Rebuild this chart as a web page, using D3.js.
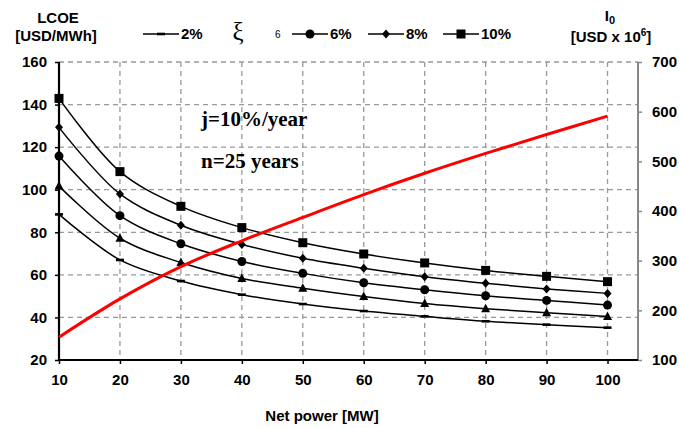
<!DOCTYPE html>
<html>
<head>
<meta charset="utf-8">
<script src="https://cdn.jsdelivr.net/npm/d3@7"></script>
<style>
body { margin: 0; background: #fff; }
text { font-family: "Liberation Sans", Arial, sans-serif; font-weight: bold; fill: #000; }
</style>
</head>
<body>
<svg id="chart" width="680" height="428"></svg>
<script>
var svg = d3.select('#chart');

// net power [MW]
var power = [10, 20, 30, 40, 50, 60, 70, 80, 90, 100];
// LCOE [USD/MWh] for each discount rate
var lcoe2 = [88.4, 67, 57.1, 50.7, 46.3, 43, 40.5, 38.2, 36.6, 35.2];
var lcoe4 = [101.7, 77.2, 65.8, 58.3, 53.7, 49.8, 46.5, 44.1, 42.2, 40.4];
var lcoe6 = [115.8, 87.8, 74.6, 66.3, 60.7, 56.3, 53, 50.2, 48, 45.8];
var lcoe8 = [129.3, 98, 83.3, 74.3, 67.8, 63.1, 59.1, 56, 53.4, 51.3];
var lcoe10 = [142.9, 108.5, 92.2, 82.2, 75.1, 69.8, 65.6, 62.1, 59.3, 56.8];
// investment I0 [USD x 10^6]
var invest = [146, 223, 288, 340, 387, 433, 476, 516, 554, 591];

var leftTicks = [20, 40, 60, 80, 100, 120, 140, 160];
var rightTicks = [100, 200, 300, 400, 500, 600, 700];
var xTicks = [10, 20, 30, 40, 50, 60, 70, 80, 90, 100];

var plot = {l: 59, r: 638, t: 62, b: 360};

var xScale = d3.scaleLinear().domain([10, 105]).range([plot.l, plot.r]);
var yScale = d3.scaleLinear().domain([20, 160]).range([plot.b, plot.t]);
var y2Scale = d3.scaleLinear().domain([100, 700]).range([plot.b, plot.t]);

// grid
var grid = svg.append('g').attr('class', 'grid');
grid.selectAll('.hgrid')
    .data(leftTicks.slice(1))
    .enter()
    .append('line')
    .attr('x1', plot.l).attr('x2', plot.r)
    .attr('y1', function(d) { return yScale(d); })
    .attr('y2', function(d) { return yScale(d); })
    .style('stroke', '#999').style('stroke-width', 1.3).style('stroke-dasharray', '5,4');
grid.selectAll('.vgrid')
    .data(xTicks.slice(1))
    .enter()
    .append('line')
    .attr('y1', plot.t).attr('y2', plot.b)
    .attr('x1', function(d) { return xScale(d); })
    .attr('x2', function(d) { return xScale(d); })
    .style('stroke', '#999').style('stroke-width', 1.3).style('stroke-dasharray', '5,4');

// axes
var xAxis = d3.axisBottom(xScale).tickValues(xTicks).tickSize(4).tickPadding(10);
var yAxis = d3.axisLeft(yScale).tickValues(leftTicks).tickSize(4).tickPadding(8);
var y2Axis = d3.axisRight(y2Scale).tickValues(rightTicks).tickSize(4).tickPadding(10);

var gx = svg.append('g')
    .attr('transform', 'translate(0,' + plot.b + ')')
    .call(xAxis);
var gy = svg.append('g')
    .attr('transform', 'translate(' + plot.l + ',0)')
    .call(yAxis);
var gy2 = svg.append('g')
    .attr('transform', 'translate(' + plot.r + ',0)')
    .call(y2Axis);

[gx, gy, gy2].forEach(function(g) {
    g.select('.domain').remove();
    g.selectAll('text').style('font-size', '15px').style('font-family', '"Liberation Sans", Arial, sans-serif');
});
gx.selectAll('line').style('stroke', '#000').style('stroke-width', 1.5);
gy.selectAll('line').style('stroke', '#000').style('stroke-width', 1.5);
gy2.selectAll('line').style('stroke', '#888').style('stroke-width', 1.5);

svg.append('line')
    .attr('x1', plot.r).attr('x2', plot.r).attr('y1', plot.t).attr('y2', plot.b)
    .style('stroke', '#888').style('stroke-width', 2);
svg.append('line')
    .attr('x1', plot.l).attr('x2', plot.l).attr('y1', plot.t).attr('y2', plot.b + 1)
    .style('stroke', '#000').style('stroke-width', 2.2);
svg.append('line')
    .attr('x1', plot.l).attr('x2', plot.r).attr('y1', plot.b).attr('y2', plot.b)
    .style('stroke', '#000').style('stroke-width', 2.2);

// series
var series = [
    {name: '2%', values: lcoe2, marker: 'dash'},
    {name: '4%', values: lcoe4, marker: 'triangle'},
    {name: '6%', values: lcoe6, marker: 'circle'},
    {name: '8%', values: lcoe8, marker: 'diamond'},
    {name: '10%', values: lcoe10, marker: 'square'}
];

var line = d3.line()
    .x(function(d) { return xScale(d[0]); })
    .y(function(d) { return yScale(d[1]); })
    .curve(d3.curveCatmullRom.alpha(0.5));

function drawMarker(g, type, x, y) {
    if (type == 'dash') {
        g.append('rect').attr('x', x - 4).attr('y', y - 1.3).attr('width', 8).attr('height', 2.6).style('fill', '#000');
    } else if (type == 'square') {
        g.append('rect').attr('x', x - 4.5).attr('y', y - 4.5).attr('width', 9).attr('height', 9).style('fill', '#000');
    } else if (type == 'circle') {
        g.append('circle').attr('cx', x).attr('cy', y).attr('r', 4.5).style('fill', '#000');
    } else if (type == 'triangle') {
        g.append('path').attr('d', 'M' + x + ',' + (y - 5) + 'L' + (x + 4.5) + ',' + (y + 3.5) + 'L' + (x - 4.5) + ',' + (y + 3.5) + 'Z').style('fill', '#000');
    } else if (type == 'diamond') {
        g.append('path').attr('d', 'M' + x + ',' + (y - 4.5) + 'L' + (x + 4) + ',' + y + 'L' + x + ',' + (y + 4.5) + 'L' + (x - 4) + ',' + y + 'Z').style('fill', '#000');
    }
}

series.forEach(function(s) {
    var pts = power.map(function(p, i) { return [p, s.values[i]]; });
    var g = svg.append('g');
    g.append('path')
        .datum(pts)
        .attr('d', line)
        .style('fill', 'none').style('stroke', '#000').style('stroke-width', 1.5);
    pts.forEach(function(d) {
        drawMarker(g, s.marker, xScale(d[0]), yScale(d[1]));
    });
});

// investment curve on right axis
var line2 = d3.line()
    .x(function(d) { return xScale(d[0]); })
    .y(function(d) { return y2Scale(d[1]); })
    .curve(d3.curveCatmullRom.alpha(0.5));
svg.append('path')
    .datum(power.map(function(p, i) { return [p, invest[i]]; }))
    .attr('d', line2)
    .style('fill', 'none').style('stroke', '#f00').style('stroke-width', 3);

// legend
var legendY = 34;
var legendItems = [
    {label: '2%', marker: 'dash', x: 143},
    {label: '6%', marker: 'circle', x: 292},
    {label: '8%', marker: 'diamond', x: 368},
    {label: '10%', marker: 'square', x: 443}
];
var legend = svg.append('g');
legendItems.forEach(function(d) {
    legend.append('line')
        .attr('x1', d.x).attr('x2', d.x + 36).attr('y1', legendY).attr('y2', legendY)
        .style('stroke', '#000').style('stroke-width', 1.5);
    drawMarker(legend, d.marker, d.x + 18, legendY);
    legend.append('text')
        .attr('x', d.x + 38).attr('y', legendY + 5)
        .style('font-size', '15px')
        .text(d.label);
});
legend.append('text')
    .attr('x', 238).attr('y', legendY + 6)
    .attr('text-anchor', 'middle')
    .style('font-family', '"Liberation Serif", "Times New Roman", serif').style('font-weight', 'normal')
    .style('font-size', '25px')
    .text('ξ');
legend.append('text')
    .attr('x', 275).attr('y', legendY + 4)
    .style('font-weight', 'normal')
    .style('font-size', '10px')
    .text('6');

// axis titles
svg.append('text').attr('x', 58).attr('y', 23).attr('text-anchor', 'middle').style('font-size', '15px').text('LCOE');
svg.append('text').attr('x', 56).attr('y', 41).attr('text-anchor', 'middle').style('font-size', '15px').text('[USD/MWh]');

var i0 = svg.append('text').attr('x', 610).attr('y', 21).attr('text-anchor', 'middle').style('font-size', '15px');
i0.append('tspan').text('I');
i0.append('tspan').attr('dy', 3).style('font-size', '11px').text('0');

var usd = svg.append('text').attr('x', 611).attr('y', 42).attr('text-anchor', 'middle').style('font-size', '15px');
usd.append('tspan').text('[USD x 10');
usd.append('tspan').attr('dy', -6).style('font-size', '10px').text('6');
usd.append('tspan').attr('dy', 6).text(']');

svg.append('text').attr('x', 322).attr('y', 421).attr('text-anchor', 'middle').style('font-size', '15px').text('Net power [MW]');

// annotations
svg.append('text').attr('x', 201).attr('y', 126)
    .style('font-family', '"Liberation Serif", "Times New Roman", serif').style('font-size', '21px')
    .text('j=10%/year');
svg.append('text').attr('x', 201).attr('y', 168)
    .style('font-family', '"Liberation Serif", "Times New Roman", serif').style('font-size', '21px')
    .text('n=25 years');
</script>
</body>
</html>
